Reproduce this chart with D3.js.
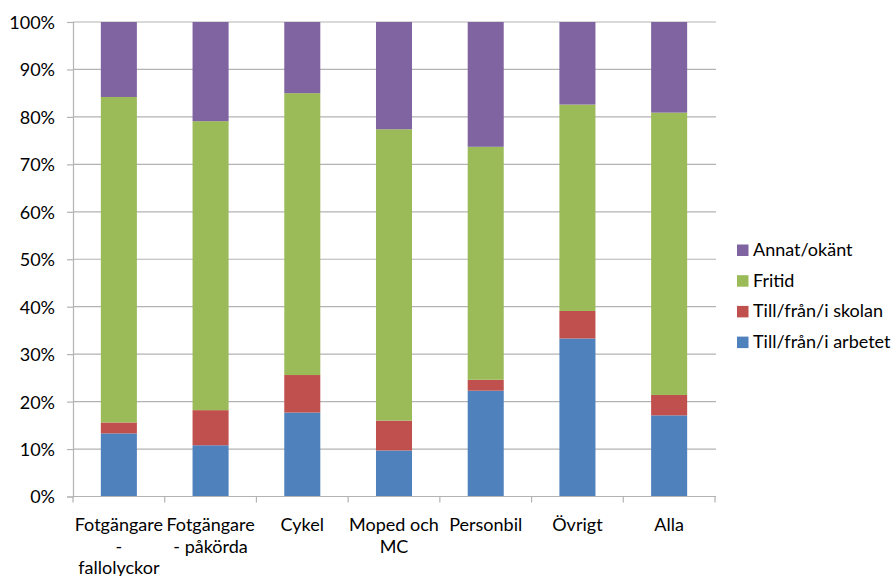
<!DOCTYPE html>
<html><head><meta charset="utf-8">
<script src="https://cdn.jsdelivr.net/npm/d3@7"></script>
<style>body{margin:0;background:#fff}svg{display:block}text{font-family:Lato,"Open Sans",sans-serif;fill:#000}</style>
</head><body><svg id="c" width="893" height="576"></svg>
<script>
const categories = ["Fotgängare - fallolyckor","Fotgängare - påkörda","Cykel","Moped och MC","Personbil","Övrigt","Alla"];
const categoryLines = [["Fotgängare","-","fallolyckor"],["Fotgängare","- påkörda"],["Cykel"],["Moped och","MC"],["Personbil"],["Övrigt"],["Alla"]];
const seriesNames = ["Till/från/i arbetet","Till/från/i skolan","Fritid","Annat/okänt"];
const arbetet = [13.3,10.8,17.7,9.7,22.3,33.3,17.1];
const skolan  = [2.3,7.4,7.9,6.3,2.3,5.8,4.3];
const fritid  = [68.6,60.9,59.4,61.4,49.1,43.5,59.5];
const annat   = [15.8,20.9,15.0,22.6,26.3,17.4,19.1];
const colors = ["#4F81BD","#C0504D","#9BBB59","#8064A2"];
const yTicks = [0,10,20,30,40,50,60,70,80,90,100];

const seriesValues = [arbetet, skolan, fritid, annat];
const table = categories.map((c,i)=>{const o={cat:c};seriesNames.forEach((s,j)=>o[s]=seriesValues[j][i]);return o;});
const stacked = d3.stack().keys(seriesNames)(table);

const svg = d3.select("#c");
const L=73, R=716, T=22, B=496.5;
const x = d3.scaleBand().domain(categories).range([L,715]).paddingInner(0.607).paddingOuter(0.3035);
const y = d3.scaleLinear().domain([0,100]).range([B,T]);
const grid="#b3b3b3";
const fs = 18;

// gridlines
svg.append("g").selectAll("line").data(yTicks.filter(d=>d>0)).join("line")
  .attr("x1",L).attr("x2",R).attr("y1",d=>y(d)).attr("y2",d=>y(d))
  .attr("stroke",grid).attr("stroke-width",1.2);

// bars
svg.append("g").selectAll("g").data(stacked).join("g").attr("fill",(d,i)=>colors[i])
  .selectAll("rect").data(d=>d).join("rect")
  .attr("x",d=>x(d.data.cat)).attr("width",x.bandwidth())
  .attr("y",d=>y(d[1])).attr("height",d=>y(d[0])-y(d[1]));

// y axis
const ya = svg.append("g").attr("transform",`translate(${L},0)`)
  .call(d3.axisLeft(y).tickValues(yTicks).tickFormat(d=>d+"%").tickSize(6).tickPadding(12));
ya.select(".domain").attr("stroke",grid).attr("stroke-width",1.2);
ya.selectAll(".tick line").attr("stroke",grid).attr("stroke-width",1.2);
ya.selectAll(".tick text").attr("font-size",fs).attr("font-family","Lato").attr("dy","0.36em");

// x axis line
svg.append("line").attr("x1",L).attr("x2",R).attr("y1",B).attr("y2",B).attr("stroke",grid).attr("stroke-width",1.2);
const step = x.step();
const bounds = d3.range(categories.length+1).map(i=>L+i*step);
svg.append("g").selectAll("line").data(bounds).join("line")
  .attr("x1",d=>d).attr("x2",d=>d).attr("y1",B).attr("y2",B+6).attr("stroke",grid).attr("stroke-width",1.2);

// x labels
const xl = svg.append("g");
categories.forEach((c,i)=>{
  const cx = x(c)+x.bandwidth()/2;
  const t = xl.append("text").attr("text-anchor","middle").attr("font-size",fs);
  categoryLines[i].forEach((ln,k)=>t.append("tspan").attr("x",cx).attr("y",531+k*21.5).text(ln));
});

// legend
const legOrder = [3,2,1,0];
const lg = svg.append("g");
legOrder.forEach((si,k)=>{
  const yy = 256+k*30.7;
  lg.append("rect").attr("x",737).attr("y",yy-11.5).attr("width",11.5).attr("height",11.5).attr("fill",colors[si]);
  lg.append("text").attr("x",753).attr("y",yy).attr("font-size",fs).text(seriesNames[si]);
});
</script></body></html>
